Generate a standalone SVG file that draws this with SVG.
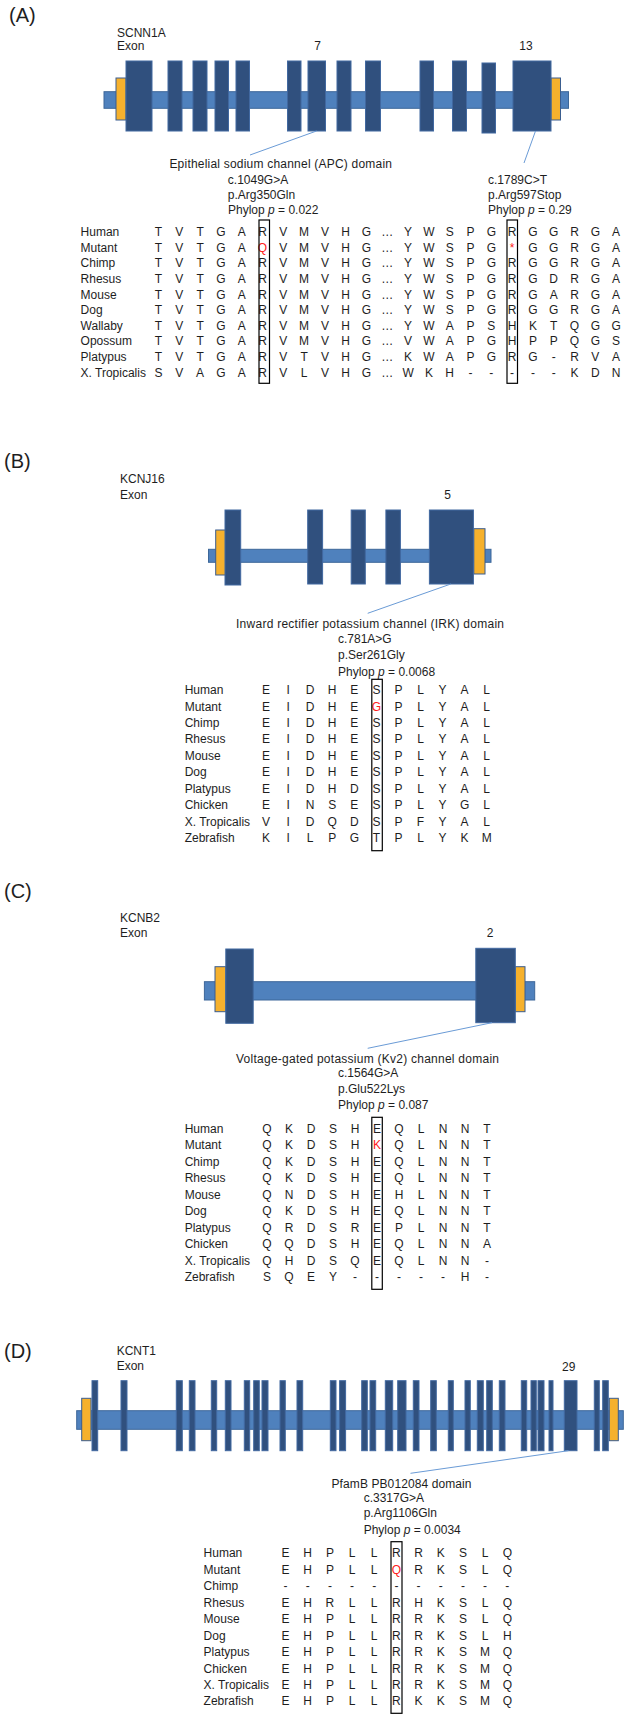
<svg xmlns="http://www.w3.org/2000/svg" width="629" height="1720" viewBox="0 0 629 1720">
<style>
text{font-family:"Liberation Sans",Arial,sans-serif;font-size:12px;fill:#1e1e1e}
.pl{font-size:20px}
.seq{text-anchor:middle}
.mut{fill:#ff2020}
.c{text-anchor:middle}
.intron{fill:#4f81bd;stroke:#3d6799;stroke-width:1}
.exon{fill:#30507e;stroke:#4168a0;stroke-width:1}
.utr{fill:#f6b12d;stroke:#3a5d8f;stroke-width:1}
.conn{stroke:#6a9bd6;stroke-width:1;fill:none}
.box{fill:none;stroke:#000;stroke-width:1.2}
</style>
<rect width="629" height="1720" fill="#fff"/>

<!-- Panel A -->
<g id="panelA-label"><text class="pl" x="9" y="22">(A)</text></g>
<g id="geneA">
<text x="117" y="36.7">SCNN1A</text>
<text x="117" y="50">Exon</text>
<text class="c" x="317.7" y="50">7</text>
<text class="c" x="526" y="50">13</text>
<rect class="intron" x="104" y="91.7" width="464.5" height="16.6"/>
<rect class="utr" x="116" y="78" width="10" height="42"/>
<rect class="utr" x="551" y="78" width="9.5" height="42"/>
<rect class="exon" x="126" y="61" width="26" height="70"/>
<rect class="exon" x="168" y="61" width="14" height="70"/>
<rect class="exon" x="193" y="61" width="14" height="70"/>
<rect class="exon" x="215" y="61" width="13.5" height="70"/>
<rect class="exon" x="236" y="61" width="13.5" height="70"/>
<rect class="exon" x="287.5" y="61" width="13.5" height="70"/>
<rect class="exon" x="308" y="61" width="17.5" height="70"/>
<rect class="exon" x="337" y="61" width="14" height="70"/>
<rect class="exon" x="365.5" y="61" width="15" height="70"/>
<rect class="exon" x="420" y="61" width="13.5" height="70"/>
<rect class="exon" x="452.5" y="61" width="14" height="70"/>
<rect class="exon" x="482" y="63" width="13.5" height="70"/>
<rect class="exon" x="513" y="61" width="38" height="70"/>
</g>
<g id="annotA">
<text x="169.4" y="168" textLength="222.6" lengthAdjust="spacing">Epithelial sodium channel (APC) domain</text>
<text x="227.8" y="184">c.1049G&gt;A</text>
<text x="227.8" y="199">p.Arg350Gln</text>
<text x="228" y="214">Phylop <tspan font-style="italic">p</tspan> = 0.022</text>
<text x="488" y="184">c.1789C&gt;T</text>
<text x="488" y="199">p.Arg597Stop</text>
<text x="488" y="214">Phylop <tspan font-style="italic">p</tspan> = 0.29</text>
</g>
<g id="alignA">
<text x="80.6" y="236">Human</text>
<text x="80.6" y="251.6">Mutant</text>
<text x="80.6" y="267.3">Chimp</text>
<text x="80.6" y="282.9">Rhesus</text>
<text x="80.6" y="298.5">Mouse</text>
<text x="80.6" y="314.2">Dog</text>
<text x="80.6" y="329.8">Wallaby</text>
<text x="80.6" y="345.4">Opossum</text>
<text x="80.6" y="361">Platypus</text>
<text x="80.6" y="376.7">X. Tropicalis</text>
<text class="seq" y="236" x="158.5 179.3 200.1 220.9 241.7 262.5 283.3 304.1 324.9 345.7 366.5 387.3 408.1 428.9 449.7 470.5 491.3 512.1 532.9 553.7 574.5 595.3 616.1">TVTGARVMVHG…YWSPGRGGRGA</text>
<text class="seq" y="251.6" x="158.5 179.3 200.1 220.9 241.7">TVTGA<tspan class="mut" x="262.5">Q</tspan><tspan x="283.3 304.1 324.9 345.7 366.5 387.3 408.1 428.9 449.7 470.5 491.3">VMVHG…YWSPG</tspan><tspan class="mut" x="512.1">*</tspan><tspan x="532.9 553.7 574.5 595.3 616.1">GGRGA</tspan></text>
<text class="seq" y="267.3" x="158.5 179.3 200.1 220.9 241.7 262.5 283.3 304.1 324.9 345.7 366.5 387.3 408.1 428.9 449.7 470.5 491.3 512.1 532.9 553.7 574.5 595.3 616.1">TVTGARVMVHG…YWSPGRGGRGA</text>
<text class="seq" y="282.9" x="158.5 179.3 200.1 220.9 241.7 262.5 283.3 304.1 324.9 345.7 366.5 387.3 408.1 428.9 449.7 470.5 491.3 512.1 532.9 553.7 574.5 595.3 616.1">TVTGARVMVHG…YWSPGRGDRGA</text>
<text class="seq" y="298.5" x="158.5 179.3 200.1 220.9 241.7 262.5 283.3 304.1 324.9 345.7 366.5 387.3 408.1 428.9 449.7 470.5 491.3 512.1 532.9 553.7 574.5 595.3 616.1">TVTGARVMVHG…YWSPGRGARGA</text>
<text class="seq" y="314.2" x="158.5 179.3 200.1 220.9 241.7 262.5 283.3 304.1 324.9 345.7 366.5 387.3 408.1 428.9 449.7 470.5 491.3 512.1 532.9 553.7 574.5 595.3 616.1">TVTGARVMVHG…YWSPGRGGRGA</text>
<text class="seq" y="329.8" x="158.5 179.3 200.1 220.9 241.7 262.5 283.3 304.1 324.9 345.7 366.5 387.3 408.1 428.9 449.7 470.5 491.3 512.1 532.9 553.7 574.5 595.3 616.1">TVTGARVMVHG…YWAPSHKTQGG</text>
<text class="seq" y="345.4" x="158.5 179.3 200.1 220.9 241.7 262.5 283.3 304.1 324.9 345.7 366.5 387.3 408.1 428.9 449.7 470.5 491.3 512.1 532.9 553.7 574.5 595.3 616.1">TVTGARVMVHG…VWAPGHPPQGS</text>
<text class="seq" y="361" x="158.5 179.3 200.1 220.9 241.7 262.5 283.3 304.1 324.9 345.7 366.5 387.3 408.1 428.9 449.7 470.5 491.3 512.1 532.9 553.7 574.5 595.3 616.1">TVTGARVTVHG…KWAPGRG-RVA</text>
<text class="seq" y="376.7" x="158.5 179.3 200.1 220.9 241.7 262.5 283.3 304.1 324.9 345.7 366.5 387.3 408.1 428.9 449.7 470.5 491.3 512.1 532.9 553.7 574.5 595.3 616.1">SVAGARVLVHG…WKH-----KDN</text>
<rect class="box" x="259" y="220" width="10.5" height="163.3"/>
<rect class="box" x="507" y="220" width="10.5" height="163.3"/>
</g>

<!-- Panel B -->
<g id="panelB-label"><text class="pl" x="4" y="468">(B)</text></g>
<g id="geneB">
<text x="120" y="483.3">KCNJ16</text>
<text x="120" y="498.5">Exon</text>
<text class="c" x="447.6" y="498.5">5</text>
<rect class="intron" x="208.5" y="549.3" width="282.5" height="13"/>
<rect class="utr" x="215.7" y="530" width="10" height="45"/>
<rect class="utr" x="473.8" y="528.7" width="11.2" height="45.3"/>
<rect class="exon" x="225" y="510" width="15.7" height="75"/>
<rect class="exon" x="307.7" y="510" width="14.9" height="74"/>
<rect class="exon" x="351.2" y="510" width="14.1" height="74"/>
<rect class="exon" x="385.9" y="510" width="14.5" height="74"/>
<rect class="exon" x="429.4" y="510" width="44" height="74"/>
</g>
<g id="annotB">
<text x="236" y="628" textLength="268" lengthAdjust="spacing">Inward rectifier potassium channel (IRK) domain</text>
<text x="338" y="642.7">c.781A&gt;G</text>
<text x="338" y="659.3">p.Ser261Gly</text>
<text x="338" y="676">Phylop <tspan font-style="italic">p</tspan> = 0.0068</text>
</g>
<g id="alignB">
<text x="184.7" y="694">Human</text>
<text x="184.7" y="710.5">Mutant</text>
<text x="184.7" y="727">Chimp</text>
<text x="184.7" y="743.4">Rhesus</text>
<text x="184.7" y="759.9">Mouse</text>
<text x="184.7" y="776.4">Dog</text>
<text x="184.7" y="792.8">Platypus</text>
<text x="184.7" y="809.3">Chicken</text>
<text x="184.7" y="825.8">X. Tropicalis</text>
<text x="184.7" y="842.2">Zebrafish</text>
<text class="seq" y="694" x="266 288.1 310.1 332.2 354.3 376.4 398.4 420.5 442.6 464.6 486.7">EIDHESPLYAL</text>
<text class="seq" y="710.5" x="266 288.1 310.1 332.2 354.3">EIDHE<tspan class="mut" x="376.4">G</tspan><tspan x="398.4 420.5 442.6 464.6 486.7">PLYAL</tspan></text>
<text class="seq" y="727" x="266 288.1 310.1 332.2 354.3 376.4 398.4 420.5 442.6 464.6 486.7">EIDHESPLYAL</text>
<text class="seq" y="743.4" x="266 288.1 310.1 332.2 354.3 376.4 398.4 420.5 442.6 464.6 486.7">EIDHESPLYAL</text>
<text class="seq" y="759.9" x="266 288.1 310.1 332.2 354.3 376.4 398.4 420.5 442.6 464.6 486.7">EIDHESPLYAL</text>
<text class="seq" y="776.4" x="266 288.1 310.1 332.2 354.3 376.4 398.4 420.5 442.6 464.6 486.7">EIDHESPLYAL</text>
<text class="seq" y="792.8" x="266 288.1 310.1 332.2 354.3 376.4 398.4 420.5 442.6 464.6 486.7">EIDHDSPLYAL</text>
<text class="seq" y="809.3" x="266 288.1 310.1 332.2 354.3 376.4 398.4 420.5 442.6 464.6 486.7">EINSESPLYGL</text>
<text class="seq" y="825.8" x="266 288.1 310.1 332.2 354.3 376.4 398.4 420.5 442.6 464.6 486.7">VIDQDSPFYAL</text>
<text class="seq" y="842.2" x="266 288.1 310.1 332.2 354.3 376.4 398.4 420.5 442.6 464.6 486.7">KILPGTPLYKM</text>
<rect class="box" x="371.8" y="679.3" width="10.5" height="171.4"/>
</g>

<!-- Panel C -->
<g id="panelC-label"><text class="pl" x="4" y="898">(C)</text></g>
<g id="geneC">
<text x="120" y="921.7">KCNB2</text>
<text x="120" y="937">Exon</text>
<text class="c" x="490" y="937">2</text>
<rect class="intron" x="204.4" y="981.7" width="330.3" height="18.3"/>
<rect class="utr" x="215" y="966.7" width="10.8" height="45"/>
<rect class="utr" x="515.3" y="966.7" width="9.7" height="45"/>
<rect class="exon" x="225.8" y="949" width="27.4" height="74.3"/>
<rect class="exon" x="475.8" y="948.3" width="39.5" height="74.4"/>
</g>
<g id="annotC">
<text x="236" y="1063.3" textLength="263" lengthAdjust="spacing">Voltage-gated potassium (Kv2) channel domain</text>
<text x="338" y="1076.7">c.1564G&gt;A</text>
<text x="338" y="1093.3">p.Glu522Lys</text>
<text x="338" y="1109.3">Phylop <tspan font-style="italic">p</tspan> = 0.087</text>
</g>
<g id="alignC">
<text x="184.7" y="1132.7">Human</text>
<text x="184.7" y="1149.2">Mutant</text>
<text x="184.7" y="1165.6">Chimp</text>
<text x="184.7" y="1182.1">Rhesus</text>
<text x="184.7" y="1198.6">Mouse</text>
<text x="184.7" y="1215.1">Dog</text>
<text x="184.7" y="1231.5">Platypus</text>
<text x="184.7" y="1248">Chicken</text>
<text x="184.7" y="1264.5">X. Tropicalis</text>
<text x="184.7" y="1280.9">Zebrafish</text>
<text class="seq" y="1132.7" x="267 289 311 333 355 377 399 421 443 465 487">QKDSHEQLNNT</text>
<text class="seq" y="1149.2" x="267 289 311 333 355">QKDSH<tspan class="mut" x="377">K</tspan><tspan x="399 421 443 465 487">QLNNT</tspan></text>
<text class="seq" y="1165.6" x="267 289 311 333 355 377 399 421 443 465 487">QKDSHEQLNNT</text>
<text class="seq" y="1182.1" x="267 289 311 333 355 377 399 421 443 465 487">QKDSHEQLNNT</text>
<text class="seq" y="1198.6" x="267 289 311 333 355 377 399 421 443 465 487">QNDSHEHLNNT</text>
<text class="seq" y="1215.1" x="267 289 311 333 355 377 399 421 443 465 487">QKDSHEQLNNT</text>
<text class="seq" y="1231.5" x="267 289 311 333 355 377 399 421 443 465 487">QRDSREPLNNT</text>
<text class="seq" y="1248" x="267 289 311 333 355 377 399 421 443 465 487">QQDSHEQLNNA</text>
<text class="seq" y="1264.5" x="267 289 311 333 355 377 399 421 443 465 487">QHDSQEQLNN-</text>
<text class="seq" y="1280.9" x="267 289 311 333 355 377 399 421 443 465 487">SQEY-----H-</text>
<rect class="box" x="371.8" y="1117.3" width="10.5" height="172"/>
</g>

<!-- Panel D -->
<g id="panelD-label"><text class="pl" x="4" y="1358">(D)</text></g>
<g id="geneD">
<text x="116.7" y="1355">KCNT1</text>
<text x="116.7" y="1370">Exon</text>
<text class="c" x="568.7" y="1371">29</text>
<rect class="intron" x="76.7" y="1410.7" width="546.6" height="18.6"/>
<rect class="utr" x="81.7" y="1398.3" width="9.3" height="42.4"/>
<rect class="utr" x="609.3" y="1398.3" width="9" height="42.4"/>
<rect class="exon" x="92" y="1380.7" width="5.7" height="70"/>
<rect class="exon" x="121" y="1380.7" width="6" height="70"/>
<rect class="exon" x="176.3" y="1380.7" width="6" height="70"/>
<rect class="exon" x="189.3" y="1380.7" width="5.7" height="70"/>
<rect class="exon" x="211.3" y="1380.7" width="5.4" height="70"/>
<rect class="exon" x="225.3" y="1380.7" width="5.7" height="70"/>
<rect class="exon" x="244.3" y="1380.7" width="5.4" height="70"/>
<rect class="exon" x="253.7" y="1380.7" width="5.6" height="70"/>
<rect class="exon" x="262" y="1380.7" width="6" height="70"/>
<rect class="exon" x="280" y="1380.7" width="5.3" height="70"/>
<rect class="exon" x="297" y="1380.7" width="5.7" height="70"/>
<rect class="exon" x="330.3" y="1380.7" width="5.7" height="70"/>
<rect class="exon" x="339.6" y="1380.7" width="6" height="70"/>
<rect class="exon" x="361.7" y="1380.7" width="5.6" height="70"/>
<rect class="exon" x="370" y="1380.7" width="5.7" height="70"/>
<rect class="exon" x="385.3" y="1380.7" width="7.4" height="70"/>
<rect class="exon" x="397.7" y="1380.7" width="8.3" height="70"/>
<rect class="exon" x="413.3" y="1380.7" width="5.7" height="70"/>
<rect class="exon" x="430.7" y="1380.7" width="5.6" height="70"/>
<rect class="exon" x="448.3" y="1380.7" width="5" height="70"/>
<rect class="exon" x="465" y="1380.7" width="5.3" height="70"/>
<rect class="exon" x="477.3" y="1380.7" width="6" height="70"/>
<rect class="exon" x="486.7" y="1380.7" width="5.6" height="70"/>
<rect class="exon" x="499.3" y="1380.7" width="5.7" height="70"/>
<rect class="exon" x="521.3" y="1380.7" width="5.4" height="70"/>
<rect class="exon" x="531" y="1380.7" width="5.3" height="70"/>
<rect class="exon" x="538" y="1380.7" width="6" height="70"/>
<rect class="exon" x="549" y="1380.7" width="4" height="70"/>
<rect class="exon" x="564.3" y="1380.7" width="12.7" height="70"/>
<rect class="exon" x="594.3" y="1380.7" width="5" height="70"/>
<rect class="exon" x="602.7" y="1380.7" width="5.6" height="70"/>
</g>
<g id="annotD">
<text x="331.5" y="1488.3" textLength="140" lengthAdjust="spacing">PfamB PB012084 domain</text>
<text x="363.7" y="1501.7">c.3317G&gt;A</text>
<text x="363.7" y="1517.3">p.Arg1106Gln</text>
<text x="363.7" y="1534">Phylop <tspan font-style="italic">p</tspan> = 0.0034</text>
</g>
<g id="alignD">
<text x="203.6" y="1557.3">Human</text>
<text x="203.6" y="1573.8">Mutant</text>
<text x="203.6" y="1590.2">Chimp</text>
<text x="203.6" y="1606.7">Rhesus</text>
<text x="203.6" y="1623.1">Mouse</text>
<text x="203.6" y="1639.6">Dog</text>
<text x="203.6" y="1656">Platypus</text>
<text x="203.6" y="1672.5">Chicken</text>
<text x="203.6" y="1688.9">X. Tropicalis</text>
<text x="203.6" y="1705.4">Zebrafish</text>
<text class="seq" y="1557.3" x="285.5 307.7 329.9 352 374.2 396.4 418.6 440.8 462.9 485.1 507.3">EHPLLRRKSLQ</text>
<text class="seq" y="1573.8" x="285.5 307.7 329.9 352 374.2">EHPLL<tspan class="mut" x="396.4">Q</tspan><tspan x="418.6 440.8 462.9 485.1 507.3">RKSLQ</tspan></text>
<text class="seq" y="1590.2" x="285.5 307.7 329.9 352 374.2 396.4 418.6 440.8 462.9 485.1 507.3">-----------</text>
<text class="seq" y="1606.7" x="285.5 307.7 329.9 352 374.2 396.4 418.6 440.8 462.9 485.1 507.3">EHRLLRHKSLQ</text>
<text class="seq" y="1623.1" x="285.5 307.7 329.9 352 374.2 396.4 418.6 440.8 462.9 485.1 507.3">EHPLLRRKSLQ</text>
<text class="seq" y="1639.6" x="285.5 307.7 329.9 352 374.2 396.4 418.6 440.8 462.9 485.1 507.3">EHPLLRRKSLH</text>
<text class="seq" y="1656" x="285.5 307.7 329.9 352 374.2 396.4 418.6 440.8 462.9 485.1 507.3">EHPLLRRKSMQ</text>
<text class="seq" y="1672.5" x="285.5 307.7 329.9 352 374.2 396.4 418.6 440.8 462.9 485.1 507.3">EHPLLRRKSMQ</text>
<text class="seq" y="1688.9" x="285.5 307.7 329.9 352 374.2 396.4 418.6 440.8 462.9 485.1 507.3">EHPLLRRKSMQ</text>
<text class="seq" y="1705.4" x="285.5 307.7 329.9 352 374.2 396.4 418.6 440.8 462.9 485.1 507.3">EHPLLRKKSMQ</text>
<rect class="box" x="391" y="1541.7" width="11" height="171.6"/>
</g>

<g id="connectors">
<line class="conn" x1="316.5" y1="131" x2="250" y2="155"/>
<line class="conn" x1="535.5" y1="131" x2="524" y2="163"/>
<line class="conn" x1="450.8" y1="584" x2="367.7" y2="613.3"/>
<line class="conn" x1="492" y1="1022.7" x2="367.7" y2="1048.3"/>
<line class="conn" x1="568.5" y1="1450.7" x2="410.5" y2="1473.3"/>
</g>
</svg>
